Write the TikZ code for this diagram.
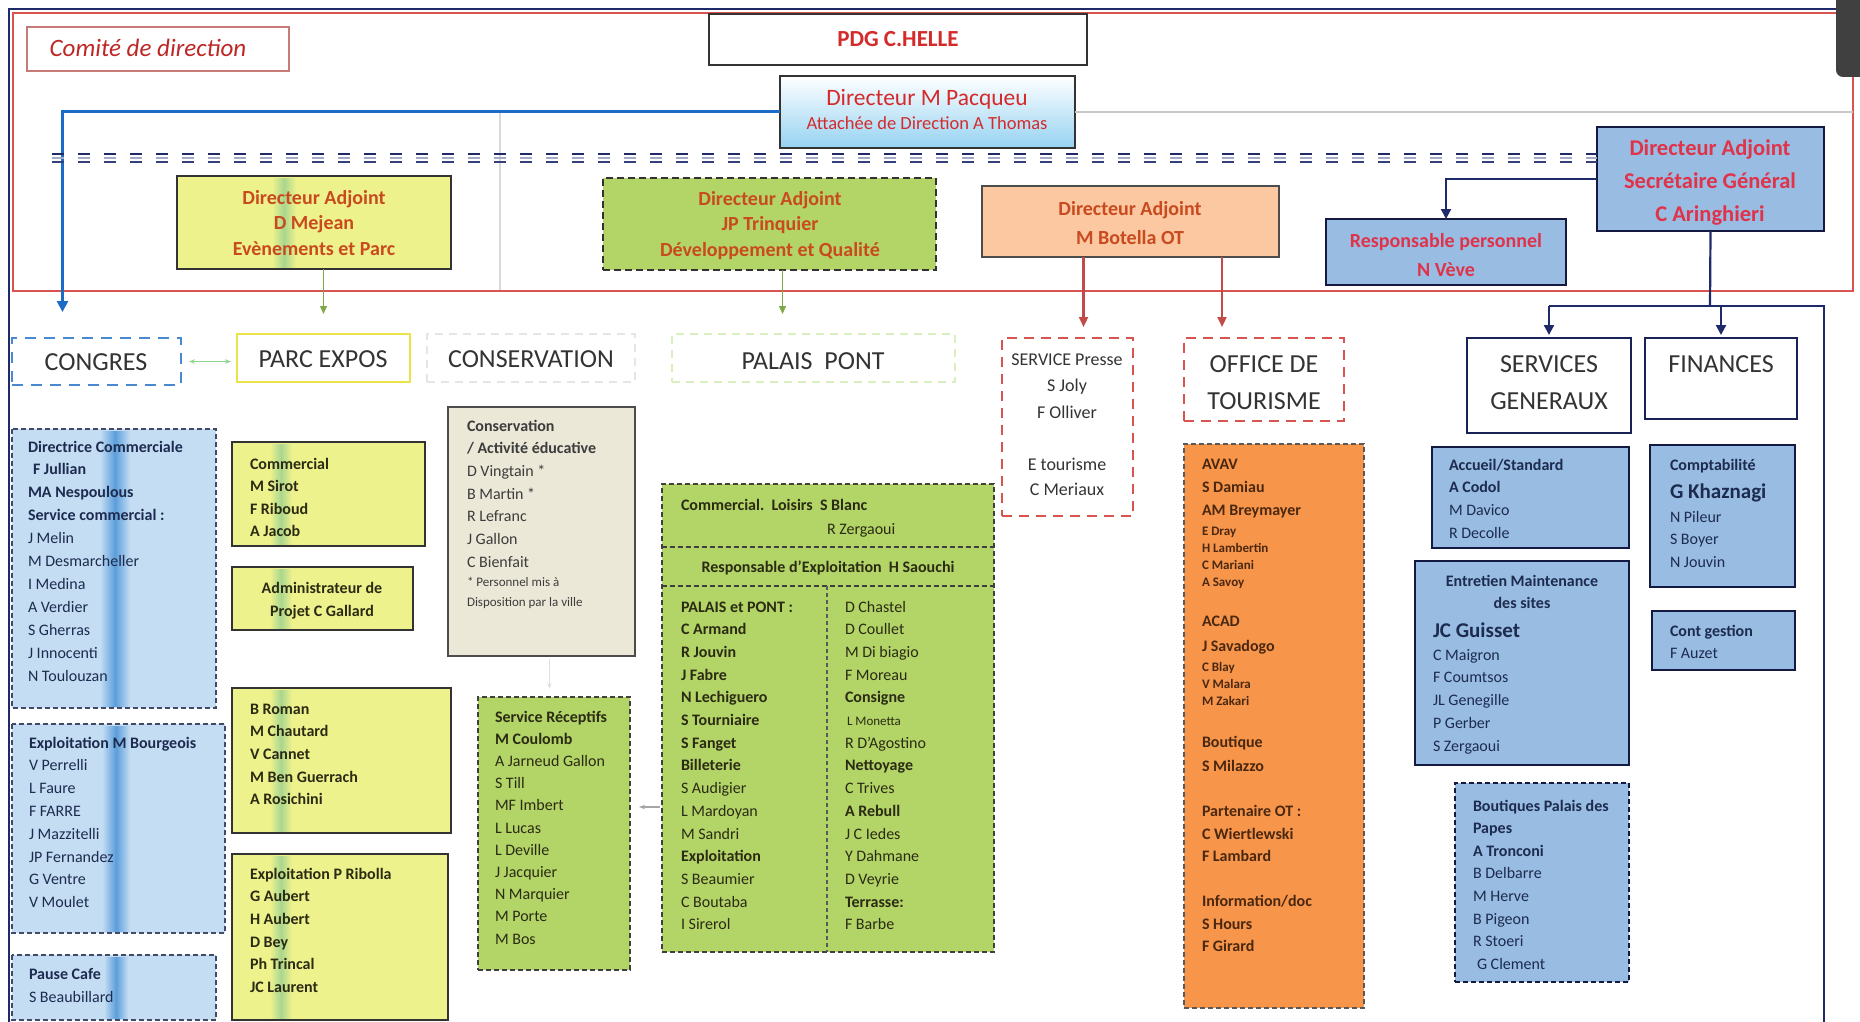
\documentclass[tikz,border=0pt]{standalone}
\usepackage{fontspec}
\setmainfont{Carlito}
\usetikzlibrary{calc,arrows.meta}

\definecolor{navy}{HTML}{1F2A6B}
\definecolor{bline}{HTML}{1A6CC4}
\definecolor{redA}{HTML}{D42A2A}
\definecolor{redB}{HTML}{C94A1E}
\definecolor{redC}{HTML}{E0334A}
\definecolor{frameRed}{HTML}{D9534F}
\definecolor{yelF}{HTML}{EEF28C}
\definecolor{yelB}{HTML}{A9D68E}
\definecolor{grnF}{HTML}{B3D467}
\definecolor{bluF}{HTML}{98BCE2}
\definecolor{lbluF}{HTML}{C4DDF3}
\definecolor{lbluB}{HTML}{5C9EDB}
\definecolor{orgF}{HTML}{F7954B}
\definecolor{peachF}{HTML}{FBC8A2}
\definecolor{beigeF}{HTML}{ECE8D7}
\definecolor{cyanF}{HTML}{95D2F2}
\definecolor{txtBlue}{HTML}{1D2B4F}
\definecolor{txtDark}{HTML}{2B2B14}
\definecolor{txtOrg}{HTML}{4A2810}
\definecolor{txtGray}{HTML}{3C3C3C}
\definecolor{hdrGray}{HTML}{333333}
\definecolor{lgreen}{HTML}{7FA84A}

\newcommand\bx[6]{\node[#6, anchor=north west, minimum width=#4pt, minimum height=#5pt] (#1) at (#2,#3) {};}
\newcommand\band[5]{\shade[left color=#4, right color=#4, middle color=#5] ($(#1.north west)+(#2,2)$) rectangle ($(#1.south west)+(#2+#3,-2)$);}
\newcommand\lns[5]{\foreach \t [count=\i] in {#5}{\node[anchor=base west] (#1-\i) at (#2, {#3+(\i-1)*#4}) {\t};}}
\newcommand\lnc[5]{\foreach \t [count=\i] in {#5}{\node[anchor=base] (#1-\i) at (#2, {#3+(\i-1)*#4}) {\t};}}
\newcommand\fd{\fontsize{16}{19}\selectfont}
\newcommand\sm{\fontsize{13}{15}\selectfont}
\newcommand\fhd{\fontsize{26}{29}\selectfont}
\newcommand\fad{\fontsize{20}{23}\selectfont\bfseries}
\newcommand\fbig{\fontsize{21}{24}\selectfont\bfseries}

\begin{document}
\begin{tikzpicture}[x=1pt,y=-1pt,
  every node/.style={inner sep=0pt, outer sep=0pt},
  yelbox/.style={fill=yelF, draw=black!80, line width=2pt},
  grnbox/.style={fill=grnF, draw=black!75, line width=1.6pt, dash pattern=on 5pt off 3pt},
  blubox/.style={fill=bluF, draw=navy!60!black, line width=2pt},
  bluboxd/.style={fill=bluF, draw=navy!60!black, line width=1.6pt, dash pattern=on 5pt off 3pt},
  redbox/.style={draw=frameRed, line width=2.5pt, dash pattern=on 10pt off 7pt},
  hdr/.style={font=\fhd, text=hdrGray},
  navyln/.style={draw=navy, line width=2.2pt},
  navyarr/.style={navyln, -{Triangle[length=10pt,width=10pt]}},
  redarr/.style={draw=frameRed!90!black, line width=2.2pt, -{Triangle[length=10pt,width=9pt]}},
  grnarr/.style={draw=lgreen, line width=1.4pt, -{Triangle[length=8pt,width=7pt]}},
]
\useasboundingbox (0,0) rectangle (1860,1022);

% ---------- frames ----------
\draw[navy, line width=1.5pt] (9,1022) -- (9,9) -- (1836,9);
\draw[frameRed, line width=2pt] (13,13) rectangle (1853,291);
\fill[black!75, rounded corners=7pt] (1836,-12) rectangle (1874,77);

% ---------- top boxes ----------
\bx{comite}{27}{27}{262}{44}{draw=frameRed!80!black!70, line width=1.4pt, fill=white}
\node[font=\fontsize{25}{27}\selectfont\itshape, text=redA!90!black, anchor=base] (comitet) at (148,57) {Comité de direction};

\bx{pdg}{709}{14}{378}{51}{draw=black!80, line width=1.6pt, fill=white}
\node[font=\fontsize{23}{25}\selectfont\bfseries, text=redA, anchor=base] (pdgt) at (898,47) {PDG C.HELLE};

\bx{pacq}{780}{76}{295}{72}{draw=black!80, line width=2pt, top color=white, bottom color=cyanF}
\node[font=\fontsize{23.5}{25}\selectfont, text=redA, anchor=base] (pacqt1) at (927,106) {Directeur M Pacqueu};
\node[font=\fontsize{18.5}{20}\selectfont, text=redA, anchor=base] (pacqt2) at (927,129.5) {Attachée de Direction A Thomas};

% header row boxes (defined early for connectors)
\bx{congres}{12}{338}{169}{47}{draw=bline!80, line width=2.5pt, dash pattern=on 11pt off 8pt}
\node[hdr, anchor=base] (congrest) at (96,370.5) {CONGRES};
\bx{parc}{237}{334}{173}{48}{draw=yellow!75!olive!70, line width=2pt}
\node[hdr, anchor=base] (parct) at (323,367.5) {PARC EXPOS};
\bx{consh}{427}{334}{208}{48}{draw=black!10, line width=1.4pt, dash pattern=on 8pt off 6pt}
\node[hdr, anchor=base] (consht) at (531,367.5) {CONSERVATION};
\bx{palh}{672}{334}{283}{48}{draw=yellow!40!green!25, line width=1.6pt, dash pattern=on 8pt off 6pt}
\node[hdr, anchor=base] (palht) at (813,369.5) {PALAIS\ \ PONT};

% lines from Pacqueu
\coordinate (grR) at (1853,112);
\draw[black!22, line width=1.2pt] (pacq.east) -- (pacq.east -| grR);
\coordinate (gv1) at (500,112);
\coordinate (gv2) at (500,290);
\draw[black!15, line width=1.2pt] (gv1) -- (gv2);
\draw[draw=bline, line width=3pt, -{Triangle[length=11pt,width=11pt]}, shorten >=26pt] (pacq.west) -| ([xshift=-34pt]congres.north);

% triple dashed line
\bx{arin}{1597}{127}{227}{104}{blubox}
\coordinate (dL) at (52,158);
\coordinate (dR) at (dL -| arin.west);
\draw[navy, line width=1.8pt, dash pattern=on 12pt off 14pt] ([yshift=4pt]dL) -- ([yshift=4pt]dR);
\draw[navy!40, line width=1.5pt, dash pattern=on 12pt off 14pt] (dL) -- (dR);
\draw[navy!90, line width=1.8pt, dash pattern=on 12pt off 14pt] ([yshift=-4pt]dL) -- ([yshift=-4pt]dR);

\begin{scope}[every node/.append style={text=redB}]
\bx{mejean}{177}{176}{274}{93}{yelbox}
\band{mejean}{95}{24}{yelF}{yelB}
\draw[black!80, line width=2pt] (mejean.north west) rectangle (mejean.south east);
\lnc{mj}{314}{204}{25.5}{{\fad Directeur Adjoint},{\fad D Mejean},{\fad Evènements et Parc}}

\bx{trin}{603}{178}{333}{92}{fill=grnF, draw=black!80, line width=2.5pt, dash pattern=on 7pt off 4pt}
\lnc{tq}{770}{205}{25.5}{{\fad Directeur Adjoint},{\fad JP Trinquier},{\fad Développement et Qualité}}

\bx{botella}{982}{186}{297}{71}{fill=peachF, draw=black!70, line width=2pt}
\lnc{bt}{1130}{215}{29}{{\fad Directeur Adjoint},{\fad M Botella OT}}
\end{scope}

\begin{scope}[every node/.append style={text=redC}]
\bx{resp}{1326}{219}{240}{66}{blubox}
\lnc{rp}{1446}{247}{29}{{\fontsize{20}{22}\selectfont\bfseries Responsable personnel},{\fontsize{20}{22}\selectfont\bfseries N Vève}}
\lnc{ar}{1710}{156}{32.5}{{\fontsize{22.5}{25}\selectfont\bfseries Directeur Adjoint},{\fontsize{22.5}{25}\selectfont\bfseries Secrétaire Général},{\fontsize{22.5}{25}\selectfont\bfseries C Aringhieri}}
\end{scope}

% ---------- header row (right) ----------
\bx{presse}{1002}{338}{131}{178}{redbox}
\begin{scope}[every node/.append style={text=hdrGray}]
\lnc{pr}{1067}{365}{26.5}{{\fontsize{18}{20}\selectfont SERVICE Presse},{\fontsize{18}{20}\selectfont S Joly},{\fontsize{18}{20}\selectfont F Olliver}}
\lnc{pr2}{1067}{470}{25.5}{{\fontsize{18}{20}\selectfont E tourisme},{\fontsize{18}{20}\selectfont C Meriaux}}
\end{scope}

\bx{office}{1184}{338}{160}{83}{redbox}
\begin{scope}[every node/.append style={text=hdrGray}]
\lnc{oft}{1264}{372.5}{37}{{\fhd OFFICE DE},{\fhd TOURISME}}
\end{scope}

\bx{sg}{1467}{338}{164}{95}{draw=navy!80!black, line width=2pt}
\begin{scope}[every node/.append style={text=hdrGray}]
\lnc{sgt}{1549}{372.5}{37}{{\fhd SERVICES},{\fhd GENERAUX}}
\end{scope}
\bx{fin}{1645}{338}{152}{81}{draw=navy!80!black, line width=2pt}
\node[hdr, anchor=base] (fint) at (1721,372.5) {FINANCES};

% ---------- connectors ----------
\draw[navyarr] (arin.west) -| (resp.north);
\coordinate (junc) at (1710,306);
\coordinate (rdown) at (1824,1022);
\draw[navyln] (arin.south) -- (junc);
\draw[navyln] (sg.north |- junc) -- (rdown |- junc) -- (rdown);
\draw[navyarr, shorten >=3pt] (sg.north |- junc) -- (sg.north);
\draw[navyarr, shorten >=3pt] (fin.north |- junc) -- (fin.north);
\draw[grnarr, shorten >=20pt] (parc.north |- mejean.south) -- (parc.north);
\draw[grnarr, shorten >=20pt] ([xshift=13pt]trin.south) -- ([xshift=13pt]trin.south |- palh.north);
\draw[redarr, shorten >=11pt] ([xshift=16pt]presse.north |- botella.south) -- ([xshift=16pt]presse.north);
\draw[redarr, shorten >=11pt] ([xshift=-42pt]office.north |- botella.south) -- ([xshift=-42pt]office.north);
\draw[draw=green!45!gray!60, line width=1.4pt, {Stealth[length=6pt]}-{Stealth[length=6pt]}, shorten <=8pt, shorten >=6pt] (congres.east) -- (congres.east -| parc.west);

% ---------- CONGRES column ----------
\begin{scope}[every node/.append style={font=\fd, text=txtBlue}]
\bx{dircom}{12}{429}{204}{279}{fill=lbluF}
\band{dircom}{88}{30}{lbluF}{lbluB}
\draw[txtBlue!85, line width=1.6pt, dash pattern=on 5pt off 3pt] (dircom.north west) rectangle (dircom.south east);
\lns{dc}{28}{452}{22.9}{{\textbf{Directrice Commerciale}},{\textbf{\hspace{5pt}F Jullian}},{\textbf{MA Nespoulous}},{\textbf{Service commercial :}},J Melin,M Desmarcheller,I Medina,A Verdier,S Gherras,J Innocenti,N Toulouzan}

\bx{bourg}{12}{724}{213}{209}{fill=lbluF}
\band{bourg}{90}{28}{lbluF}{lbluB}
\draw[txtBlue!85, line width=1.6pt, dash pattern=on 5pt off 3pt] (bourg.north west) rectangle (bourg.south east);
\lns{bg}{29}{748}{22.8}{{\textbf{Exploitation M Bourgeois}},V Perrelli,L Faure,F FARRE,J Mazzitelli,JP Fernandez,G Ventre,V Moulet}

\bx{pause}{12}{955}{204}{65}{fill=lbluF}
\band{pause}{92}{24}{lbluF}{lbluB}
\draw[txtBlue!85, line width=1.6pt, dash pattern=on 5pt off 3pt] (pause.north west) rectangle (pause.south east);
\lns{pc}{29}{979}{23}{{\textbf{Pause Cafe}},S Beaubillard}
\end{scope}

% ---------- PARC EXPOS column ----------
\begin{scope}[every node/.append style={font=\fd\bfseries, text=txtDark}]
\bx{comm}{232}{442}{193}{104}{fill=yelF}
\band{comm}{38}{22}{yelF}{yelB}
\draw[black!80, line width=2pt] (comm.north west) rectangle (comm.south east);
\lns{cm}{250}{469}{22.5}{Commercial,M Sirot,F Riboud,A Jacob}

\bx{admin}{232}{567}{181}{63}{fill=yelF}
\band{admin}{38}{22}{yelF}{yelB}
\draw[black!80, line width=2pt] (admin.north west) rectangle (admin.south east);
\lnc{ad}{322}{593}{23}{Administrateur de,Projet C Gallard}

\bx{roman}{232}{688}{219}{145}{fill=yelF}
\band{roman}{38}{22}{yelF}{yelB}
\draw[black!80, line width=2pt] (roman.north west) rectangle (roman.south east);
\lns{rm}{250}{714}{22.7}{B Roman,M Chautard,V Cannet,M Ben Guerrach,A Rosichini}

\bx{ribolla}{232}{854}{216}{166}{fill=yelF}
\band{ribolla}{38}{22}{yelF}{yelB}
\draw[black!80, line width=2pt] (ribolla.north west) rectangle (ribolla.south east);
\lns{rb}{250}{879}{22.7}{Exploitation P Ribolla,G Aubert,H Aubert,D Bey,Ph Trincal,JC Laurent}
\end{scope}

% ---------- CONSERVATION ----------
\begin{scope}[every node/.append style={font=\fd, text=txtGray}]
\bx{consd}{448}{407}{187}{249}{fill=beigeF, draw=black!70, line width=2pt}
\lns{cs}{467}{431}{22.7}{{\textbf{Conservation}},{\textbf{/ Activité éducative}},D Vingtain *,B Martin *,R Lefranc,J Gallon,C Bienfait}
\lns{cs2}{467}{586}{20}{{\sm * Personnel mis à},{\sm Disposition par la ville}}
\end{scope}

% ---------- PALAIS PONT ----------
\begin{scope}[every node/.append style={font=\fd, text=txtDark}]
\bx{recep}{478}{697}{152}{273}{grnbox}
\lns{rc}{495}{722}{22.2}{{\textbf{Service Réceptifs}},{\textbf{M Coulomb}},A Jarneud Gallon,S Till,MF Imbert,L Lucas,L Deville,J Jacquier,N Marquier,M Porte,M Bos}

\bx{palais}{662}{484}{332}{468}{grnbox}
\coordinate (pd1) at (662,547);
\coordinate (pd2) at (662,586);
\coordinate (pd3) at (827,586);
\draw[black!75, line width=1.6pt, dash pattern=on 5pt off 3pt] (pd1) -- (pd1 -| palais.east);
\draw[black!75, line width=1.6pt, dash pattern=on 5pt off 3pt] (pd2) -- (pd2 -| palais.east);
\draw[black!65, line width=1.2pt, dash pattern=on 4pt off 3pt] (pd3) -- (pd3 |- palais.south);
\node[anchor=base west] (pl-a) at (681,510) {\textbf{Commercial.\ \ Loisirs\ \ S Blanc}};
\node[anchor=base west] (pl-b) at (827,534) {R Zergaoui};
\node[anchor=base] (pl-c) at (828,572) {\textbf{Responsable d'Exploitation\ \ H Saouchi}};
\lns{pL}{681}{612}{22.7}{{\textbf{PALAIS et PONT :}},{\textbf{C Armand}},{\textbf{R Jouvin}},{\textbf{J Fabre}},{\textbf{N Lechiguero}},{\textbf{S Tourniaire}},{\textbf{S Fanget}},{\textbf{Billeterie}},S Audigier,L Mardoyan,M Sandri,{\textbf{Exploitation}},S Beaumier,C Boutaba,I Sirerol}
\lns{pR}{845}{612}{22.7}{D Chastel,D Coullet,M Di biagio,F Moreau,{\textbf{Consigne}},{\sm\hspace{2pt}L Monetta},R D'Agostino,{\textbf{Nettoyage}},C Trives,{\textbf{A Rebull}},J C Iedes,Y Dahmane,D Veyrie,{\textbf{Terrasse:}},F Barbe}
\end{scope}
\coordinate (ay) at (0,807);
\draw[draw=black!35, line width=1.2pt, -{Stealth[length=6pt]}, shorten >=9pt, shorten <=2pt] (palais.west |- ay) -- (recep.east |- ay);
\draw[draw=black!12, line width=1.4pt, -{Stealth[length=6pt]}, shorten >=8pt, shorten <=3pt] ([xshift=8pt]consd.south) -- ([xshift=8pt]consd.south |- recep.north);

% ---------- OFFICE DE TOURISME ----------
\bx{otd}{1184}{444}{180}{564}{fill=orgF, draw=black!65, line width=1.6pt, dash pattern=on 5pt off 3pt}
\begin{scope}[every node/.append style={font=\fd\bfseries, text=txtOrg}]
\foreach \yy/\t [count=\i] in {469/{AVAV},492/{S Damiau},515/{AM Breymayer},626/{ACAD},651/{J Savadogo},747/{Boutique},771/{S Milazzo},816/{Partenaire OT :},839/{C Wiertlewski},861/{F Lambard},906/{Information/doc},929/{S Hours},951/{F Girard}}
  {\node[anchor=base west] (ot-\i) at (1202,\yy) {\t};}
\foreach \yy/\t [count=\i] in {535/{E Dray},552/{H Lambertin},569/{C Mariani},586/{A Savoy},671/{C Blay},688/{V Malara},705/{M Zakari}}
  {\node[anchor=base west, font=\sm\bfseries] (ots-\i) at (1202,\yy) {\t};}
\end{scope}

% ---------- SERVICES GENERAUX / FINANCES ----------
\begin{scope}[every node/.append style={font=\fd, text=txtBlue}]
\bx{accueil}{1432}{447}{197}{101}{blubox}
\lns{ac}{1449}{470}{22.8}{{\textbf{Accueil/Standard}},{\textbf{A Codol}},M Davico,R Decolle}

\bx{entretien}{1415}{561}{214}{204}{blubox}
\lnc{en}{1522}{586}{22}{{\textbf{Entretien Maintenance}},{\textbf{des sites}}}
\node[anchor=base west, font=\fbig] (en-3) at (1433,637) {JC Guisset};
\lns{en2}{1433}{660}{22.8}{C Maigron,F Coumtsos,JL Genegille,P Gerber,S Zergaoui}

\bx{boutiques}{1455}{783}{174}{199}{bluboxd}
\lns{bq}{1473}{811}{22.6}{{\textbf{Boutiques Palais des}},{\textbf{Papes}},{\textbf{A Tronconi}},B Delbarre,M Herve,B Pigeon,R Stoeri,{\hspace{4pt}G Clement}}

\bx{compta}{1650}{445}{145}{142}{blubox}
\node[anchor=base west] (cp-1) at (1670,470) {\textbf{Comptabilité}};
\node[anchor=base west, font=\fbig] (cp-2) at (1670,498) {G Khaznagi};
\lns{cp3}{1670}{522}{22.6}{N Pileur,S Boyer,N Jouvin}

\bx{contg}{1652}{611}{143}{59}{blubox}
\lns{cg}{1670}{636}{22.5}{{\textbf{Cont gestion}},F Auzet}
\end{scope}

\end{tikzpicture}
\end{document}
